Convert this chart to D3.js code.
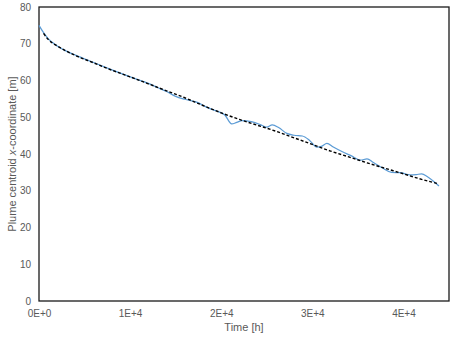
<!DOCTYPE html>
<html>
<head>
<meta charset="utf-8">
<script src="https://cdn.jsdelivr.net/npm/d3@7"></script>
<style>
  body { margin: 0; background: #fff; }
  svg { display: block; font-family: "Liberation Sans", Arial, sans-serif; }
</style>
</head>
<body>
<svg id="chart" width="472" height="347"></svg>
<script>
const width = 472, height = 347;
const margin = { top: 7, right: 23, bottom: 46, left: 39 };

// measured plume centroid (blue)
const obsTime = [0, 500, 1000, 2000, 3000, 4000, 6000, 8000, 10000, 12000, 13000, 14000, 15000, 16000,
  17300, 18500, 19500, 20400, 21150, 21700, 22300, 23300, 24300, 25000, 25600, 26300, 27200, 28000,
  28900, 29700, 30500, 31000, 31600, 32300, 33300, 34300, 35300, 36000, 36700, 37700, 38700, 39700,
  40700, 41400, 42000, 42600, 43300, 43900];
const obsX = [75.0, 73.0, 71.4, 69.4, 68.0, 66.9, 64.9, 62.9, 61.0, 59.2, 58.1, 57.0, 55.7, 54.9,
  54.1, 52.6, 51.7, 50.6, 48.2, 48.6, 49.1, 48.8, 48.0, 47.3, 47.9, 47.2, 45.6, 45.1,
  44.9, 43.7, 41.9, 42.1, 42.9, 41.9, 40.6, 39.5, 38.3, 38.7, 37.7, 36.2, 35.0, 34.9,
  34.3, 34.4, 34.6, 33.9, 32.6, 31.3];

// fitted trend (black dashed)
const fitTime = [500, 1000, 2000, 3000, 4000, 6000, 8000, 10000, 12000, 14000, 16000, 18000, 20000,
  22000, 24000, 26000, 28000, 30000, 32000, 34000, 36000, 38000, 40000, 42000, 43700];
const fitX = [72.8, 71.2, 69.4, 68.0, 66.8, 64.8, 62.8, 61.0, 59.1, 57.2, 55.3, 53.2, 51.2,
  49.4, 47.8, 46.2, 44.4, 42.6, 40.8, 39.2, 37.6, 36.1, 34.6, 33.1, 32.0];

const xTicks = [0, 10000, 20000, 30000, 40000];
const xTickLabels = ["0E+0", "1E+4", "2E+4", "3E+4", "4E+4"];
const yTicks = [0, 10, 20, 30, 40, 50, 60, 70, 80];

const svg = d3.select("#chart");

const x = d3.scaleLinear().domain([0, 45000]).range([margin.left, width - margin.right]);
const y = d3.scaleLinear().domain([0, 80]).range([height - margin.bottom, margin.top]);

// axes (labels only, Excel style)
const xAxis = svg.append("g")
  .attr("transform", `translate(0,${height - margin.bottom})`)
  .call(d3.axisBottom(x).tickValues(xTicks).tickSize(0).tickPadding(9)
    .tickFormat((d, i) => xTickLabels[i]));
const yAxis = svg.append("g")
  .attr("transform", `translate(${margin.left},0)`)
  .call(d3.axisLeft(y).tickValues(yTicks).tickSize(0).tickPadding(8));
[xAxis, yAxis].forEach(a => {
  a.select(".domain").remove();
  a.selectAll("text").attr("fill", "#595959").attr("font-size", "10px")
    .attr("font-family", "Liberation Sans, Arial, sans-serif");
});

// plot border
svg.append("rect")
  .attr("x", margin.left).attr("y", margin.top)
  .attr("width", width - margin.left - margin.right)
  .attr("height", height - margin.top - margin.bottom)
  .attr("fill", "none").attr("stroke", "#1a1a1a").attr("stroke-width", 1.3);

const line = (ts, vs) => d3.line()
  .x((d, i) => x(ts[i])).y(d => y(d))
  .curve(d3.curveMonotoneX)(vs);

svg.append("path")
  .attr("d", line(obsTime, obsX))
  .attr("fill", "none").attr("stroke", "#5b9bd5").attr("stroke-width", 1.25);

svg.append("path")
  .attr("d", line(fitTime, fitX))
  .attr("fill", "none").attr("stroke", "#000").attr("stroke-width", 1.4)
  .attr("stroke-dasharray", "3,2");

// axis titles
svg.append("text")
  .attr("x", (margin.left + width - margin.right) / 2).attr("y", 331)
  .attr("text-anchor", "middle").attr("fill", "#595959").attr("font-size", "11px")
  .text("Time [h]");

const yt = svg.append("text")
  .attr("transform", `translate(16,${(margin.top + height - margin.bottom) / 2}) rotate(-90)`)
  .attr("text-anchor", "middle").attr("fill", "#595959").attr("font-size", "11px");
yt.append("tspan").text("Plume centroid ");
yt.append("tspan").attr("font-style", "italic").text("x");
yt.append("tspan").text("-coordinate [m]");
</script>
</body>
</html>
